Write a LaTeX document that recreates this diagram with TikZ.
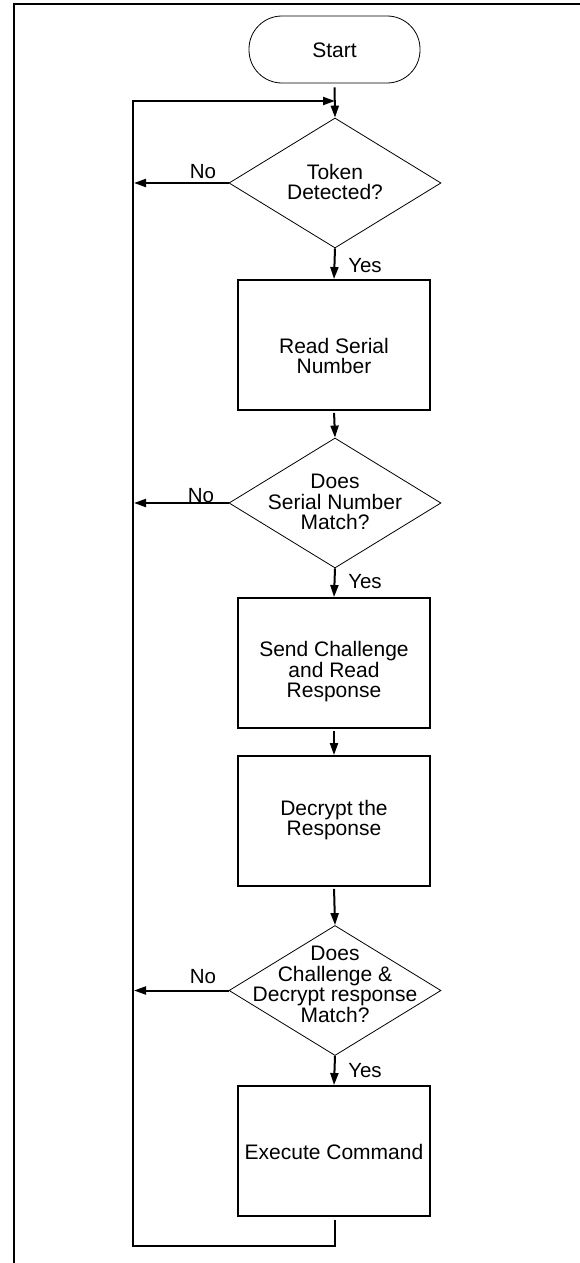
\documentclass[tikz,border=0pt]{standalone}
\usepackage{fontspec}
\setmainfont{Liberation Sans}
\usetikzlibrary{shapes.geometric,arrows.meta}
\begin{document}
\begin{tikzpicture}[x=1pt,y=-1pt,
 every node/.style={font=\fontsize{21}{20.5}\selectfont},
 box/.style={draw, line width=1.9pt, minimum width=192pt, minimum height=130pt, inner sep=0},
 dia/.style={draw, diamond, line width=0.8pt, minimum width=212pt, minimum height=130pt, inner sep=0},
 term/.style={draw, line width=0.8pt, rounded corners=33pt, minimum width=171pt, minimum height=67pt, inner sep=0},
 txt/.style={align=center, inner sep=0},
 conn/.style={line width=2pt, -{Triangle[length=12pt,width=8pt]}},
 wire/.style={line width=2pt},
 lbl/.style={inner sep=0, font=\fontsize{20.5}{20.5}\selectfont}
]
\useasboundingbox (0,0) rectangle (580,1263);
\draw[line width=2.2pt] (14,1275) -- (14,4) -- (595,4);

\node[term] (start) at (334.5,49.5) {};
\node[txt] (tstart) at (334.5,50) {Start};

\node[dia] (d1) at (335,183) {};
\node[txt] (td1) at (335,182) {Token\\Detected?};

\node[box] (b1) at (334,345) {};
\node[txt] (tb1) at (334,356) {Read Serial\\Number};

\node[dia] (d2) at (335,503) {};
\node[txt] (td2) at (335,502) {Does\\Serial Number\\Match?};

\node[box] (b2) at (334,663) {};
\node[txt] (tb2) at (334,672) {Send Challenge\\and Read\\Response};

\node[box] (b3) at (334,821) {};
\node[txt] (tb3) at (334,820) {Decrypt the\\Response};

\node[dia] (d3) at (335,990.5) {};
\node[txt] (td3) at (335,984.5) {Does\\Challenge \&\\Decrypt response\\Match?};

\node[box] (b4) at (334,1151) {};
\node[txt] (tb4) at (334,1152) {Execute Command};

% loop coordinates
\coordinate (lt) at (133,101);
\coordinate (lb) at (133,1246);
\coordinate (br) at (335,1246);
\coordinate (ta) at (335,101);
\coordinate (n1) at (134,183);
\coordinate (n2) at (134,503);
\coordinate (n3) at (134,990.5);

% main flow
\draw[conn, shorten <=4pt] (start.south) -- (d1.north);
\draw[conn] (d1.south) -- (b1.north);
\draw[conn, shorten <=2pt] (b1.south) -- (d2.north);
\draw[conn] (d2.south) -- (b2.north);
\draw[conn, shorten <=2pt] (b2.south) -- (b3.north);
\draw[conn, shorten <=2pt] (b3.south) -- (d3.north);
\draw[conn] (d3.south) -- (b4.north);

% no branches
\draw[conn] (d1.west) -- (n1);
\draw[conn] (d2.west) -- (n2);
\draw[conn] (d3.west) -- (n3);

% loop back
\draw[conn, shorten <=3pt] (b4.south -| br) -- (br) -- (lb) -- (lt) -- (ta);

% labels
\node[lbl] (no1) at (203,171.5) {No};
\node[lbl] (no2) at (201,495.5) {No};
\node[lbl] (no3) at (203,977) {No};
\node[lbl] (yes1) at (365,266) {Yes};
\node[lbl] (yes2) at (365,582) {Yes};
\node[lbl] (yes3) at (365,1071) {Yes};
\end{tikzpicture}
\end{document}
